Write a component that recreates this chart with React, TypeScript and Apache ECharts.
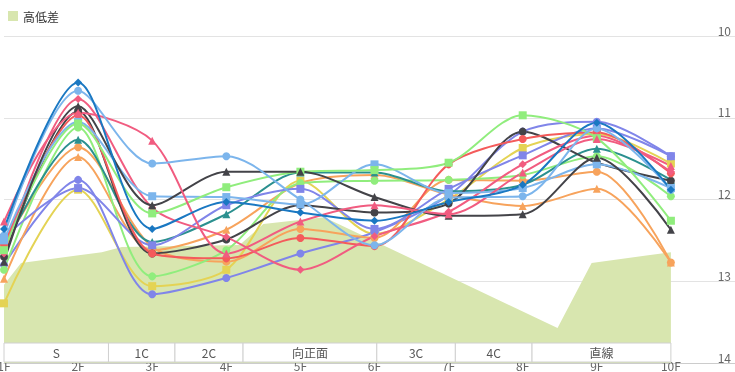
import React, { useEffect, useRef } from 'react';
import * as echarts from 'echarts';

// Tick labels
const furlongLabels = ['1F', '2F', '3F', '4F', '5F', '6F', '7F', '8F', '9F', '10F'];

// Course profile (高低差): distance in furlongs, height in metres
const profileName = '高低差';
const profileDist = [1.0, 1.23, 2.32, 2.59, 4.18, 4.5, 5.32, 8.47, 8.93, 10.0];
const profileHeight = [2.39, 3.06, 3.39, 3.55, 3.61, 4.25, 4.46, 1.07, 3.06, 3.39];

// Course sections
const sectionNames = ['S', '1C', '2C', '向正面', '3C', '4C', '直線'];
const sectionStart = [1.0, 2.41, 3.307, 4.226, 6.031, 7.091, 8.126];
const sectionEnd = [2.41, 3.307, 4.226, 6.031, 7.091, 8.126, 10.0];

// Lap times per furlong (seconds)
const lapsBlueDiamond = [12.36, 10.57, 12.36, 12.03, 12.16, 12.26, 12.03, 11.82, 11.06, 11.88];
const lapsSkyCircle = [12.44, 10.67, 11.56, 11.47, 12.0, 12.56, 11.98, 11.96, 11.13, 11.88];
const lapsSkySquare = [12.5, 11.05, 11.96, 11.97, 12.06, 11.57, 11.92, 11.86, 11.57, 11.86];
const lapsPinkTriangle = [12.27, 10.94, 11.28, 12.66, 12.27, 12.07, 12.18, 11.67, 11.26, 11.59];
const lapsPinkDiamond = [12.66, 10.77, 12.1, 12.46, 12.86, 12.45, 12.15, 11.57, 11.22, 11.66];
const lapsRedCircle = [12.55, 10.97, 12.66, 12.72, 12.47, 12.57, 11.57, 11.26, 11.18, 11.68];
const lapsGrayTriangle = [12.76, 10.86, 12.07, 11.66, 11.66, 11.97, 12.2, 12.18, 11.49, 12.37];
const lapsGrayCircle = [12.7, 10.92, 12.66, 12.49, 12.07, 12.16, 12.05, 11.17, 11.55, 11.77];
const lapsGreenSquare = [12.62, 11.07, 12.17, 11.85, 11.66, 11.64, 11.55, 10.97, 11.25, 12.26];
const lapsGreenCircle = [12.86, 11.12, 12.94, 12.62, 11.8, 11.77, 11.76, 11.7, 11.47, 11.96];
const lapsTealTriangle = [12.6, 11.27, 12.52, 12.18, 11.67, 11.67, 11.9, 11.82, 11.38, 11.76];
const lapsOrangeTriangle = [12.97, 11.48, 12.62, 12.37, 11.8, 11.7, 11.94, 12.08, 11.87, 12.77];
const lapsOrangeCircle = [12.57, 11.36, 12.58, 12.76, 12.36, 12.47, 11.76, 11.77, 11.66, 12.77];
const lapsYellowSquare = [13.27, 11.88, 13.06, 12.86, 11.77, 12.42, 12.0, 11.37, 11.2, 11.56];
const lapsPurpleCircle = [12.8, 11.76, 13.16, 12.96, 12.66, 12.4, 11.95, 11.17, 11.05, 11.47];
const lapsPurpleSquare = [12.47, 11.86, 12.56, 12.07, 11.87, 12.36, 11.87, 11.46, 11.13, 11.47];

const raceNames = [
  'レース1', 'レース2', 'レース3', 'レース4', 'レース5', 'レース6', 'レース7', 'レース8',
  'レース9', 'レース10', 'レース11', 'レース12', 'レース13', 'レース14', 'レース15', 'レース16',
];
const raceLaps = [
  lapsYellowSquare, lapsPurpleCircle, lapsOrangeTriangle, lapsOrangeCircle, lapsGreenCircle,
  lapsTealTriangle, lapsPurpleSquare, lapsGrayCircle, lapsRedCircle, lapsPinkDiamond,
  lapsSkySquare, lapsGreenSquare, lapsGrayTriangle, lapsPinkTriangle, lapsSkyCircle, lapsBlueDiamond,
];

// Styles (kept apart from data)
const raceColors = [
  '#e4d354', '#8085e9', '#f7a35c', '#f7a35c', '#90ed7d',
  '#2b908f', '#8085e9', '#434348', '#f45b5b', '#f15c80',
  '#7cb5ec', '#90ed7d', '#434348', '#f15c80', '#7cb5ec', '#1a78c2',
];
const raceSymbols = [
  'rect', 'circle', 'triangle', 'circle', 'circle',
  'triangle', 'rect', 'circle', 'circle', 'diamond',
  'rect', 'rect', 'triangle', 'triangle', 'circle', 'diamond',
];

const FONT = "'Noto Sans CJK JP', 'Noto Sans', sans-serif";

export default function App() {
  const ref = useRef<HTMLDivElement>(null);

  useEffect(() => {
    if (!ref.current) return;
    const chart = echarts.init(ref.current, null, { renderer: 'svg' });

    const lineSeries = raceLaps.map((laps, i) => ({
      name: raceNames[i],
      type: 'line',
      xAxisIndex: 0,
      yAxisIndex: 0,
      smooth: 0.3,
      data: laps.map((v, k) => [k + 1, v]),
      symbol: raceSymbols[i],
      symbolSize: 8,
      itemStyle: { color: raceColors[i] },
      lineStyle: { width: 2, color: raceColors[i] },
      z: 3,
    }));

    const option: any = {
      animation: false,
      textStyle: { fontFamily: FONT },
      legend: {
        data: [profileName],
        left: 8,
        top: 10,
        padding: 0,
        icon: 'rect',
        itemWidth: 10,
        itemHeight: 10,
        itemGap: 10,
        textStyle: { fontSize: 12, color: '#333', fontFamily: FONT },
      },
      grid: {
        left: 4,
        right: 0,
        top: 36,
        bottom: 9,
        containLabel: false,
        outerBoundsMode: 'none',
      },
      xAxis: [
        {
          type: 'value',
          min: 1,
          max: 10.865,
          interval: 1,
          axisLine: { show: true, lineStyle: { color: '#ccc' } },
          axisTick: { show: false },
          splitLine: { show: false },
          axisLabel: {
            margin: -4,
            fontSize: 12,
            lineHeight: 12,
            color: '#666',
            fontFamily: FONT,
            showMaxLabel: false,
            formatter: (v: number) =>
              Number.isInteger(v) && v >= 1 && v <= furlongLabels.length ? furlongLabels[v - 1] : '',
          },
        },
      ],
      yAxis: [
        {
          type: 'value',
          inverse: true,
          min: 10,
          max: 14,
          interval: 1,
          position: 'right',
          axisLine: { show: false },
          axisTick: { show: false },
          splitLine: { show: true, lineStyle: { color: '#e3e3e3', width: 1 } },
          axisLabel: {
            inside: true,
            margin: 4,
            fontSize: 12,
            color: '#666',
            fontFamily: FONT,
            verticalAlign: 'bottom',
            lineHeight: 12,
          },
        },
        {
          type: 'value',
          min: 0,
          max: 10,
          show: false,
          splitLine: { show: false },
        },
      ],
      series: [
        {
          name: profileName,
          type: 'line',
          xAxisIndex: 0,
          yAxisIndex: 1,
          data: profileDist.map((d, i) => [d, profileHeight[i]]),
          symbol: 'none',
          smooth: false,
          lineStyle: { width: 0, color: '#d8e6af' },
          itemStyle: { color: '#d8e6af' },
          areaStyle: { color: '#d8e6af', opacity: 1 },
          z: 1,
          silent: true,
        },
        ...lineSeries,
        {
          type: 'custom',
          xAxisIndex: 0,
          yAxisIndex: 1,
          z: 5,
          silent: true,
          data: sectionStart.map((s, i) => [s, sectionEnd[i]]),
          encode: { x: [0, 1] },
          renderItem: (params: any, api: any) => {
            const s = api.value(0);
            const e = api.value(1);
            const p0 = api.coord([s, 0]);
            const p1 = api.coord([e, 0]);
            const cs = params.coordSys;
            const bottom = cs.y + cs.height;
            return {
              type: 'group',
              children: [
                {
                  type: 'rect',
                  shape: { x: p0[0], y: bottom - 20, width: p1[0] - p0[0], height: 19 },
                  style: { fill: '#fff', stroke: '#d0d0d0', lineWidth: 1 },
                },
                {
                  type: 'text',
                  style: {
                    text: sectionNames[params.dataIndex],
                    x: (p0[0] + p1[0]) / 2,
                    y: bottom - 10.5,
                    align: 'center',
                    verticalAlign: 'middle',
                    fill: '#555',
                    fontSize: 12,
                    fontFamily: FONT,
                  },
                },
              ],
            };
          },
        },
      ],
    };

    chart.setOption(option);
    return () => chart.dispose();
  }, []);

  return (
    <div
      ref={ref}
      style={{ position: 'fixed', left: 0, top: 0, width: 735, height: 372 }}
    />
  );
}
